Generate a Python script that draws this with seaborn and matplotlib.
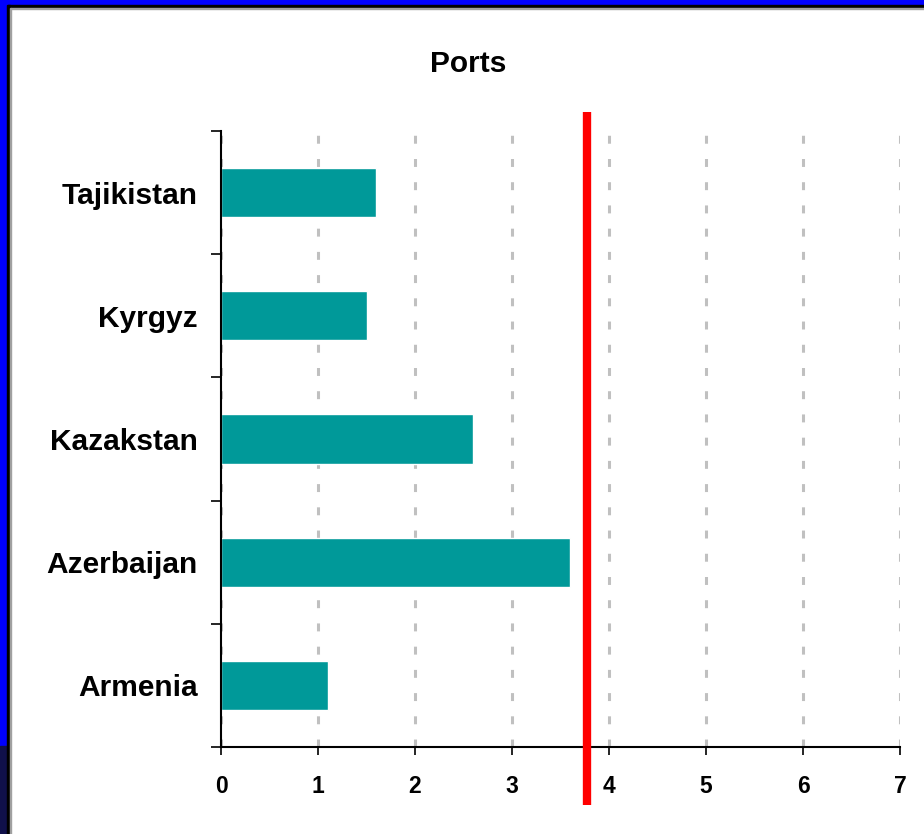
import matplotlib
matplotlib.use("Agg")
import matplotlib.pyplot as plt
from matplotlib.patches import Rectangle
import seaborn as sns
import pandas as pd

countries = ["Tajikistan", "Kyrgyz", "Kazakstan", "Azerbaijan", "Armenia"]
ports = [1.6, 1.5, 2.6, 3.6, 1.1]
benchmark = 3.77
x_ticks = [0, 1, 2, 3, 4, 5, 6, 7]

df = pd.DataFrame({"country": countries, "score": ports})

sns.set_style("white")
plt.rcParams["font.family"] = ["Liberation Sans Narrow", "Liberation Sans", "DejaVu Sans"]
plt.rcParams["font.weight"] = "bold"
plt.rcParams["text.color"] = "black"
plt.rcParams["xtick.color"] = "black"
plt.rcParams["ytick.color"] = "black"

W, H = 924, 834
fig = plt.figure(figsize=(W / 100, H / 100), dpi=100)
ax = fig.add_axes([221 / W, (H - 747) / H, (900 - 221) / W, (747 - 131) / H])

sns.barplot(data=df, x="score", y="country", order=countries, orient="h",
            color="#009999", saturation=1, width=0.4, ax=ax)

ax.set_xlim(0, 7)
ax.set_ylim(4.5, -0.5)
ax.set_xticks(x_ticks)
ax.set_xticklabels([str(t) for t in x_ticks], fontsize=16.5, fontweight="bold")
ax.set_yticks(range(len(countries)))
ax.set_yticklabels(countries, fontsize=21.5, fontweight="bold")
ax.set_yticks([i - 0.5 for i in range(len(countries) + 1)], minor=True)
ax.tick_params(axis="y", which="both", left=True)
ax.tick_params(axis="x", which="both", bottom=True)
ax.tick_params(axis="y", which="major", length=0, pad=17)
ax.tick_params(axis="y", which="minor", length=7, width=1.2, color="black", direction="out")
ax.tick_params(axis="x", which="major", length=6, width=1.2, color="black", direction="out", pad=14)
ax.set_xlabel("")
ax.set_ylabel("")

ax.grid(axis="x", color="#c0c0c0", lw=2.2, linestyle=(0, (2.6, 5)))
ax.set_axisbelow(True)
for s in ["top", "right"]:
    ax.spines[s].set_visible(False)
for s in ["left", "bottom"]:
    ax.spines[s].set_color("black")
    ax.spines[s].set_linewidth(1.5)

# red reference line, running past the plot area
ax.axvline(benchmark, ymin=-0.094, ymax=1.031, color="red", lw=6, clip_on=False,
           zorder=5, solid_capstyle="butt")

fig.text(468 / W, (H - 64) / H, "Ports", ha="center", va="center",
         fontsize=21.5, fontweight="bold")

# slide frame
def frame(x0, y0, x1, y1, c):
    fig.patches.append(Rectangle((x0 / W, (H - y1) / H), (x1 - x0) / W, (y1 - y0) / H,
                                 transform=fig.transFigure, color=c, zorder=10))

frame(0, 0, W, 5, "#0000ff")
frame(7, 5, W, 8, "black")
frame(10, 8, W, 9, "#a0a0a0")
frame(0, 0, 7, H, "#0000ff")
frame(0, 746, 7, H, "#10104a")
frame(7, 5, 10, H, "black")
frame(10, 8, 11, H, "#a0a0a0")

fig.savefig("out.png", dpi=100)
